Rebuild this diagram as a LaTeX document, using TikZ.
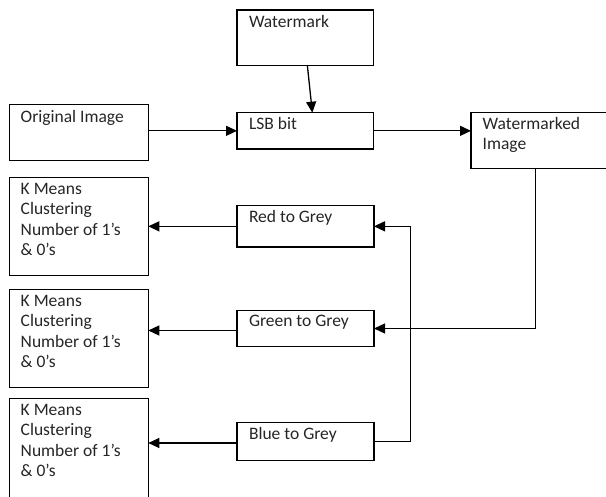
\documentclass[tikz,border=0pt]{standalone}
\usepackage{fontspec}
\setmainfont{Carlito}
\usetikzlibrary{arrows.meta,calc}
\newcommand\kmlines{\vtop{\hbox{K Means}\hbox{Clustering}\hbox{Number of 1’s}\hbox{\& 0’s}}}
\tikzset{
  box/.style={draw=black, line width=1.5pt, rectangle, inner sep=0pt, outer sep=0pt, anchor=north west},
  lbl/.style={inner sep=0pt, outer sep=0pt, anchor=base west,
    font=\fontsize{17.5}{20.2}\selectfont, text=black!85},
  conn/.style={line width=1.3pt, draw=black},
  arr/.style={conn, -{Triangle[length=11pt,width=10pt]}}
}
\begin{document}
\begin{tikzpicture}[x=1pt,y=-1pt]
\clip (0,0) rectangle (606,497);
\fill[white] (0,0) rectangle (606,497);
% boxes
\node[box, minimum width=136.7pt, minimum height=55.3pt] (wm) at (237,10) {};
\node[box, minimum width=139pt, minimum height=55.6pt] (orig) at (9.3,104.7) {};
\node[box, minimum width=136.7pt, minimum height=36.3pt] (lsb) at (237,112.7) {};
\node[box, minimum width=150pt, minimum height=56pt] (wmd) at (471,112.3) {};
\node[box, minimum width=139pt, minimum height=98pt] (k1) at (9.3,177.7) {};
\node[box, minimum width=137pt, minimum height=41.3pt] (red) at (237,205.7) {};
\node[box, minimum width=139pt, minimum height=98.4pt] (k2) at (9.3,289.3) {};
\node[box, minimum width=137pt, minimum height=36.4pt] (green) at (237,310.3) {};
\node[box, minimum width=139pt, minimum height=102pt] (k3) at (9.3,398.3) {};
\node[box, minimum width=137pt, minimum height=37.6pt] (blue) at (237,422.7) {};
% labels
\node[lbl] (wm-t) at ([shift={(12,17.3)}]wm.north west) {Watermark};
\node[lbl] (orig-t) at ([shift={(11.4,18)}]orig.north west) {Original Image};
\node[lbl] (lsb-t) at ([shift={(12,16.5)}]lsb.north west) {LSB bit};
\node[lbl] (wmd-t) at ([shift={(11.7,17)}]wmd.north west) {\vtop{\hbox{Watermarked}\hbox{Image}}};
\node[lbl] (k1-t) at ([shift={(11.4,17)}]k1.north west) {\kmlines};
\node[lbl] (red-t) at ([shift={(12,16.5)}]red.north west) {Red to Grey};
\node[lbl] (k2-t) at ([shift={(11.4,17.4)}]k2.north west) {\kmlines};
\node[lbl] (green-t) at ([shift={(12,16.4)}]green.north west) {Green to Grey};
\node[lbl] (k3-t) at ([shift={(11.4,17.4)}]k3.north west) {\kmlines};
\node[lbl] (blue-t) at ([shift={(12,16.5)}]blue.north west) {Blue to Grey};
% connectors
\draw[arr] ([xshift=2pt]wm.south) -- ([xshift=7pt]lsb.north);
\draw[arr] (orig.east |- lsb.west) -- (lsb.west);
\draw[arr] (lsb.east) -- (lsb.east -| wmd.west);
\draw[arr] ([xshift=64.3pt]wmd.south west) |- (green.east);
\draw[arr] (blue.east) -| ([xshift=36.3pt]red.east) -- (red.east);
\draw[arr] (red.west) -- (red.west -| k1.east);
\draw[arr] ([yshift=-2pt]green.west) -- ([yshift=-2pt]green.west -| k2.east);
\draw[arr] ([yshift=-1.5pt]blue.west) -- ([yshift=-1.5pt]blue.west -| k3.east);
\end{tikzpicture}
\end{document}
